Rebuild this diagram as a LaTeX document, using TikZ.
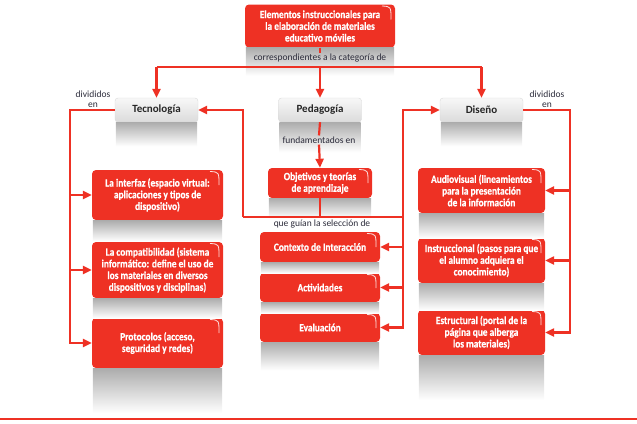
\documentclass[tikz,border=0pt]{standalone}
\usepackage{fontspec}
\setmainfont{Carlito}
\newfontfamily\cond[FakeStretch=0.85, BoldFont={Carlito Bold}, BoldFeatures={FakeBold=0.6}]{Carlito}
\usetikzlibrary{arrows.meta,calc}
\definecolor{rojo}{HTML}{EE3124}
\definecolor{texto}{HTML}{2B2B3A}

\begin{document}
\begin{tikzpicture}[x=1pt,y=-1pt,
  caja/.style={rectangle, rounded corners=4pt, fill=rojo, text=white,
    font=\cond\bfseries\fontsize{11}{11.7}\selectfont, align=center, inner sep=1pt,
    path picture={\draw[white, line width=0.8pt, opacity=0.85]
      ($(path picture bounding box.north east)+(-13,1.5)$) .. controls
      ($(path picture bounding box.north east)+(-4,2)$) ..
      ($(path picture bounding box.north east)+(-4,15)$);}},
  titulo/.style={rectangle, rounded corners=3pt, top color=gray!6, bottom color=gray!28,
    draw=gray!30, line width=0.4pt, font=\bfseries\fontsize{11}{13}\selectfont,
    text=black!85, minimum width=83pt, minimum height=24pt},
  nota/.style={font=\fontsize{9.5}{10.5}\selectfont, text=texto, align=center, inner sep=1pt},
  linea/.style={draw=rojo, line width=2.2pt},
  flecha/.style={linea, -{Triangle[length=9pt,width=8pt]}}]
  \useasboundingbox (0,0) rectangle (637,423);

  % cajas
  \node[caja, minimum width=150pt, minimum height=43pt] (top)    at (320, 26)
    {Elementos instruccionales para\\la elaboración de materiales\\educativo móviles};
  \node[titulo]                                         (tec)    at (156.5,110) {Tecnología};
  \node[titulo]                                         (ped)    at (320,110)   {Pedagogía};
  \node[titulo]                                         (dis)    at (481.5,110) {Diseño};
  \node[caja, minimum width=131pt, minimum height=50pt] (inter)  at (157.5,195)
    {La interfaz (espacio virtual:\\aplicaciones y tipos de\\dispositivo)};
  \node[caja, minimum width=131pt, minimum height=56pt] (compat) at (157.5,270)
    {La compatibilidad (sistema\\informático: define el uso de\\los materiales en diversos\\dispositivos y disciplinas)};
  \node[caja, minimum width=131pt, minimum height=50pt] (prot)   at (157.5,343)
    {Protocolos (acceso,\\seguridad y redes)};
  \node[caja, minimum width=104pt, minimum height=30pt] (obj)    at (320,183)
    {Objetivos y teorías\\de aprendizaje};
  \node[caja, minimum width=120pt, minimum height=30pt] (ctx)    at (320,247)   {Contexto de Interacción};
  \node[caja, minimum width=120pt, minimum height=29pt] (act)    at (320,287.5) {Actividades};
  \node[caja, minimum width=120pt, minimum height=29pt] (eva)    at (320,327.5) {Evaluación};
  \node[caja, minimum width=127pt, minimum height=45pt] (aud)    at (481.5,190.5)
    {Audiovisual (lineamientos\\para la presentación\\de la información};
  \node[caja, minimum width=127pt, minimum height=45pt] (ins)    at (481.5,260.5)
    {Instruccional (pasos para que\\el alumno adquiera el\\conocimiento)};
  \node[caja, minimum width=127pt, minimum height=45pt] (est)    at (481.5,332.5)
    {Estructural (portal de la\\página que alberga\\los materiales)};

  % reflejos
  \foreach \n/\h in {top/28, tec/24, ped/30, dis/24, inter/21, compat/20, prot/45,
                     obj/20, ctx/11, act/11, eva/28, aud/25, ins/27, est/45}
    \shade[top color=gray!65, bottom color=white]
      ($(\n.south west)+(1,0)$) rectangle ($(\n.south east)+(-1,\h)$);

  % textos
  \node[nota] (corr) at (320,58)  {correspondientes a la categoría de};
  \node[nota] (fund) at (319,140) {fundamentados en};
  \node[nota] (guia) at (322,224) {que guían la selección de};
  \node[nota] (divi) at (93,99)   {divididos\\en};
  \node[nota] (divd) at (547,99)  {divididos\\en};

  \coordinate (hub)   at (320,67);
  \coordinate (lrail) at (70,111);
  \coordinate (rrail) at (570,111);
  \coordinate (lcol)  at (243,217);
  \coordinate (rcol)  at (403,217);
  \coordinate (piso1) at (0,418.5);
  \coordinate (piso2) at (637,418.5);

  % conectores
  \draw[linea]  (top.south) -- (corr.north);
  \draw[linea]  (hub -| tec.north) -- (hub -| dis.north);
  \draw[flecha] (hub) -- (ped.north);
  \draw[flecha] (hub -| tec.north) -- (tec.north);
  \draw[flecha] (hub -| dis.north) -- (dis.north);

  \draw[flecha] (tec.west) -| (lrail |- prot.west) -- (prot.west);
  \draw[flecha] (lrail |- inter.west)  -- (inter.west);
  \draw[flecha] (lrail |- compat.west) -- (compat.west);

  \draw[flecha] (dis.east) -| (rrail |- est.east) -- (est.east);
  \draw[flecha] (rrail |- aud.east) -- (aud.east);
  \draw[flecha] (rrail |- ins.east) -- (ins.east);

  \draw[linea]  (ped.south) -- (fund.north);
  \draw[flecha] (fund.south) -- (obj.north);
  \draw[linea]  (obj.south) -- (obj.south |- lcol);
  \draw[linea]  (lcol) -- (rcol);
  \draw[flecha] (lcol) |- (tec.east);
  \draw[flecha] (rcol) |- (dis.west);
  \draw[flecha] (rcol) |- (eva.east);
  \draw[flecha] (rcol |- ctx.east) -- (ctx.east);
  \draw[flecha] (rcol |- act.east) -- (act.east);

  \draw[draw=rojo, line width=2pt] (piso1) -- (piso2);
\end{tikzpicture}
\end{document}
